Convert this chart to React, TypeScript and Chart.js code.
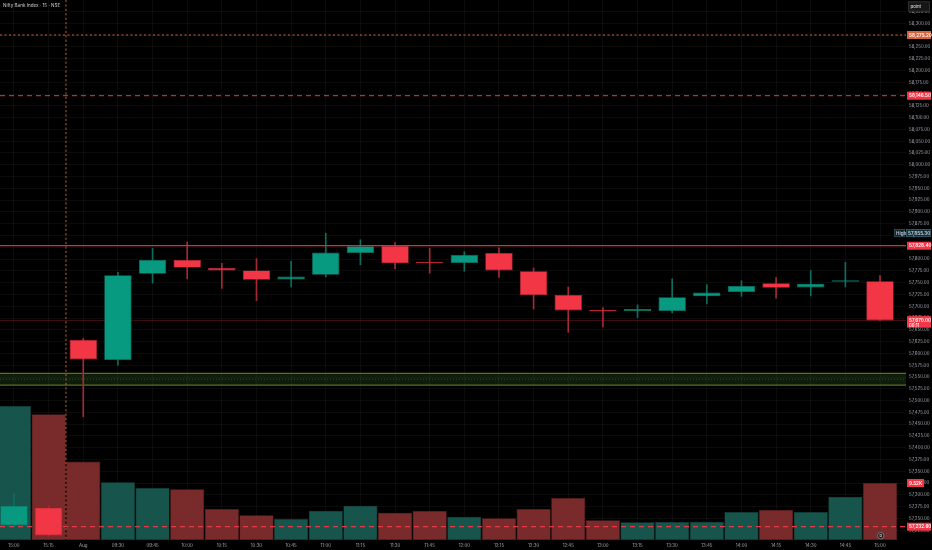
import React, { useEffect, useRef } from 'react';
import { Chart, registerables } from 'chart.js';

Chart.register(...registerables);

// ---- data ----
const timeLabels = ['15:00', '15:15', 'Aug', '09:30', '09:45', '10:00', '10:15', '10:30', '10:45', '11:00', '11:15', '11:30', '11:45', '12:00', '12:15', '12:30', '12:45', '13:00', '13:15', '13:30', '13:45', '14:00', '14:15', '14:30', '14:45', '15:00'];
const opens = [57235, 57273, 57629, 57586, 57769, 57798, 57781, 57776, 57757, 57767, 57813, 57828, 57793, 57792, 57813, 57774, 57724, 57692, 57690, 57690, 57721, 57730, 57749, 57740, 57752, 57753];
const highs = [57303, 57277, 57632, 57772, 57823, 57836, 57791, 57801, 57796, 57855, 57841, 57835, 57823, 57816, 57824, 57781, 57741, 57697, 57703, 57758, 57746, 57754, 57761, 57776, 57793, 57765];
const lows = [57233, 57212, 57466, 57575, 57749, 57758, 57738, 57712, 57741, 57762, 57788, 57779, 57770, 57774, 57761, 57694, 57645, 57656, 57676, 57686, 57705, 57721, 57717, 57722, 57741, 57670];
const closes = [57277, 57214, 57587, 57766, 57798, 57782, 57776, 57756, 57763, 57814, 57827, 57791, 57791, 57809, 57776, 57724, 57691, 57689, 57694, 57719, 57729, 57743, 57739, 57748, 57753, 57670];
const volumesK = [22.4, 21.0, 13.1, 9.63, 8.68, 8.46, 5.18, 4.12, 3.51, 4.9, 5.73, 4.56, 4.84, 3.9, 3.62, 5.18, 7.01, 3.29, 2.96, 3.0, 3.06, 4.68, 5.01, 4.68, 7.23, 9.52];

// price axis view and ticks
const priceMin = 57204.4;
const priceMax = 58349.4;
const priceTickStart = 57225;
const priceTickEnd = 58325;
const priceTickStep = 25;
const volumeMaxK = 90.19;

// drawn levels
const levelOrangeDotted = 58275.2;
const levelRedDashed = 58146.5;
const levelRedSolid = 57828.4;
const levelHigh = 57855.3;
const zoneTop = 57557.8;
const zoneBottom = 57533.0;
const levelLowDashed = 57232.6;
const sessionBreakIndex = 1.5;
const countdownText = '00:11';

const UP = '#089981';
const DOWN = '#f23645';

const fmt = (v: number) =>
  v.toLocaleString('en-US', { minimumFractionDigits: 2, maximumFractionDigits: 2 });

export default function App() {
  const ref = useRef<HTMLCanvasElement>(null);

  useEffect(() => {
    if (!ref.current) return;
    Chart.defaults.font.family = 'Inter, Roboto, "Noto Sans", sans-serif';
    const up = closes.map((c, i) => c >= opens[i]);
    const bodies = opens.map((o, i) => ({ x: i, y: [o, closes[i]] }));
    const wicks = highs.map((h, i) => ({ x: i, y: [lows[i], h] }));
    const vols = volumesK.map((v, i) => ({ x: i, y: v }));
    const lastIdx = timeLabels.length - 1;

    const hline = (ctx: any, a: any, y: number, color: string, width: number, dash: number[]) => {
      ctx.save();
      ctx.strokeStyle = color;
      ctx.lineWidth = width;
      ctx.setLineDash(dash);
      ctx.beginPath();
      ctx.moveTo(a.left, y);
      ctx.lineTo(a.right, y);
      ctx.stroke();
      ctx.restore();
    };

    const tag = (ctx: any, x0: number, x1: number, y: number, text: string, bg: string, fg: string, border?: string, h = 8) => {
      ctx.save();
      ctx.fillStyle = bg;
      ctx.fillRect(x0, y - h / 2, x1 - x0, h);
      if (border) {
        ctx.strokeStyle = border;
        ctx.lineWidth = 0.7;
        ctx.strokeRect(x0 + 0.35, y - h / 2 + 0.35, x1 - x0 - 0.7, h - 0.7);
      }
      ctx.fillStyle = fg;
      ctx.font = '600 4.6px Inter, Roboto, sans-serif';
      ctx.textBaseline = 'middle';
      ctx.textAlign = 'left';
      ctx.fillText(text, x0 + 2, y + 0.3);
      ctx.restore();
    };

    const overlay = {
      id: 'overlay',
      beforeDatasetsDraw(chart: any) {
        const { ctx, chartArea: a, scales } = chart;
        const y = scales.y;
        const t = y.getPixelForValue(zoneTop);
        const b = y.getPixelForValue(zoneBottom);
        ctx.save();
        ctx.fillStyle = 'rgba(45,90,30,0.32)';
        ctx.fillRect(a.left, t, a.right - a.left, b - t);
        ctx.restore();
        hline(ctx, a, t, '#5d6e1e', 1.2, []);
        hline(ctx, a, b, '#5d6e1e', 1.2, []);
        hline(ctx, a, (t + b) / 2, 'rgba(140,140,140,0.45)', 0.8, [1, 2]);
        // current price line
        hline(ctx, a, y.getPixelForValue(closes[lastIdx]), 'rgba(242,54,69,0.35)', 0.8, []);
      },
      afterDatasetsDraw(chart: any) {
        const { ctx, chartArea: a, scales } = chart;
        const y = scales.y;
        const x = scales.x;
        hline(ctx, a, y.getPixelForValue(levelOrangeDotted), '#d06a30', 1, [2, 2.5]);
        hline(ctx, a, y.getPixelForValue(levelRedDashed), '#f23645', 1, [5, 4]);
        hline(ctx, a, y.getPixelForValue(levelRedSolid), '#d6303d', 1.3, []);
        hline(ctx, a, y.getPixelForValue(levelLowDashed), '#e23a48', 1.2, [5, 4]);
        // session break vertical
        const sx = x.getPixelForValue(sessionBreakIndex);
        ctx.save();
        ctx.strokeStyle = '#b8622c';
        ctx.lineWidth = 1;
        ctx.setLineDash([2.2, 2.2]);
        ctx.beginPath();
        ctx.moveTo(sx, a.top);
        ctx.lineTo(sx, a.bottom);
        ctx.stroke();
        ctx.restore();
        // event marker
        const ex = x.getPixelForValue(lastIdx);
        ctx.save();
        ctx.beginPath();
        ctx.arc(ex + 0.7, a.bottom - 4.3, 3.2, 0, Math.PI * 2);
        ctx.fillStyle = '#1b1b1b';
        ctx.fill();
        ctx.strokeStyle = '#8a8a8a';
        ctx.lineWidth = 0.8;
        ctx.stroke();
        ctx.fillStyle = '#d0d0d0';
        ctx.font = '600 3.6px Inter, sans-serif';
        ctx.textAlign = 'center';
        ctx.textBaseline = 'middle';
        ctx.fillText('D', ex + 0.7, a.bottom - 4.1);
        ctx.restore();
      },
      afterDraw(chart: any) {
        const { ctx, chartArea: a, scales, width } = chart;
        const y = scales.y;
        const v = scales.vol;
        const x0 = a.right + 1;
        const x1 = width - 1;
        tag(ctx, x0, x1, y.getPixelForValue(levelOrangeDotted), fmt(levelOrangeDotted), '#d9623c', '#ffffff');
        tag(ctx, x0, x1, y.getPixelForValue(levelRedDashed), fmt(levelRedDashed), '#f23645', '#ffffff');
        tag(ctx, x0, x1, y.getPixelForValue(levelRedSolid), fmt(levelRedSolid), '#f23645', '#ffffff');
        // High tag
        const hy = y.getPixelForValue(levelHigh);
        tag(ctx, x0 - 13, x0 - 2, hy, 'High', '#16242b', '#b9c6cc', '#33535f');
        tag(ctx, x0 - 1, x1, hy, fmt(levelHigh), '#16303b', '#c9d6db', '#3b6676');
        tag(ctx, x0, x1, y.getPixelForValue(levelLowDashed), fmt(levelLowDashed), '#f23645', '#ffffff');
        tag(ctx, x0, x1 - 7, v.getPixelForValue(volumesK[lastIdx]), volumesK[lastIdx].toFixed(2) + 'K', '#f23645', '#ffffff');
        // last price with countdown
        const cy = y.getPixelForValue(closes[lastIdx]);
        ctx.save();
        ctx.fillStyle = '#f23645';
        ctx.fillRect(x0, cy - 4.3, x1 - x0, 11.5);
        ctx.fillStyle = '#ffffff';
        ctx.font = '600 4.6px Inter, Roboto, sans-serif';
        ctx.textBaseline = 'middle';
        ctx.fillText(fmt(closes[lastIdx]), x0 + 2, cy);
        ctx.font = '500 4.2px Inter, Roboto, sans-serif';
        ctx.fillText(countdownText, x0 + 2, cy + 5);
        ctx.restore();
        // unit box
        ctx.save();
        ctx.fillStyle = '#161616';
        ctx.fillRect(x0 + 1, 1.5, x1 - x0 - 2, 10);
        ctx.strokeStyle = '#3a3a3a';
        ctx.lineWidth = 0.7;
        ctx.strokeRect(x0 + 1.35, 1.85, x1 - x0 - 2.7, 9.3);
        ctx.fillStyle = '#d1d4dc';
        ctx.font = '500 4.4px Inter, Roboto, sans-serif';
        ctx.textBaseline = 'middle';
        ctx.fillText('point', x0 + 3.5, 6.6);
        ctx.restore();
      },
    };

    const chart = new Chart(ref.current, {
      type: 'bar',
      data: {
        datasets: [
          {
            label: 'body',
            data: bodies as any,
            backgroundColor: up.map((u) => (u ? UP : DOWN)),
            borderColor: up.map((u) => (u ? '#0a7d6a' : '#c82e3b')),
            borderWidth: 0.7,
            borderSkipped: false,
            barPercentage: 0.79,
            categoryPercentage: 1,
            grouped: false,
            minBarLength: 1.6,
            order: 0,
            xAxisID: 'x',
            yAxisID: 'y',
          } as any,
          {
            label: 'wick',
            data: wicks as any,
            backgroundColor: up.map((u) => (u ? '#0b6e5e' : '#a42b36')),
            barThickness: 1,
            grouped: false,
            order: 1,
            xAxisID: 'x',
            yAxisID: 'y',
          } as any,
          {
            label: 'volume',
            data: vols as any,
            backgroundColor: up.map((u) => (u ? '#17554c' : '#792a2b')),
            borderColor: up.map((u) => (u ? '#124740' : '#662324')),
            borderWidth: 0.6,
            borderSkipped: false,
            barPercentage: 0.985,
            categoryPercentage: 1,
            grouped: false,
            order: 2,
            xAxisID: 'x',
            yAxisID: 'vol',
          } as any,
        ],
      },
      options: {
        animation: false,
        responsive: false,
        maintainAspectRatio: false,
        events: [],
        layout: { padding: 0 },
        plugins: { legend: { display: false }, tooltip: { enabled: false }, title: { display: false } },
        scales: {
          x: {
            type: 'linear',
            position: 'bottom',
            min: -0.404,
            max: 25.75,
            offset: false,
            grid: { color: 'rgba(255,255,255,0.045)', drawTicks: false, offset: false },
            border: { display: false },
            afterBuildTicks: (s: any) => {
              s.ticks = timeLabels.map((_, i) => ({ value: i }));
            },
            afterFit: (s: any) => {
              s.height = 10;
              s.paddingLeft = 0;
              s.paddingRight = 0;
            },
            ticks: {
              autoSkip: false,
              maxRotation: 0,
              padding: 3,
              color: '#a3a6af',
              font: { size: 4.4 },
              callback: (v: any) => timeLabels[Math.round(v)] ?? '',
            },
          },
          y: {
            type: 'linear',
            position: 'right',
            min: priceMin,
            max: priceMax,
            grid: { color: 'rgba(255,255,255,0.045)', drawTicks: false },
            border: { display: false },
            afterBuildTicks: (s: any) => {
              const t: any[] = [];
              for (let p = priceTickStart; p <= priceTickEnd; p += priceTickStep) t.push({ value: p });
              s.ticks = t;
            },
            afterFit: (s: any) => {
              s.width = 26;
              s.paddingTop = 0;
              s.paddingBottom = 0;
            },
            ticks: {
              padding: 3,
              color: '#a3a6af',
              font: { size: 4.4 },
              callback: (v: any) => fmt(Number(v)),
            },
          },
          vol: {
            type: 'linear',
            axis: 'y',
            position: 'right',
            display: false,
            min: 0,
            max: volumeMaxK,
          } as any,
        },
      } as any,
      plugins: [overlay],
    });
    return () => chart.destroy();
  }, []);

  return (
    <div style={{ position: 'fixed', left: 0, top: 0, width: 932, height: 550, background: '#000', overflow: 'hidden' }}>
      <canvas ref={ref} width={932} height={550} style={{ display: 'block', width: 932, height: 550 }} />
      <div
        style={{
          position: 'absolute',
          left: 3,
          top: 3,
          fontSize: '4.6px',
          lineHeight: '5px',
          color: '#c9cbd1',
          fontFamily: 'Inter, Roboto, sans-serif',
          whiteSpace: 'nowrap',
        }}
      >
        Nifty Bank Index · 15 · NSE
      </div>
    </div>
  );
}
